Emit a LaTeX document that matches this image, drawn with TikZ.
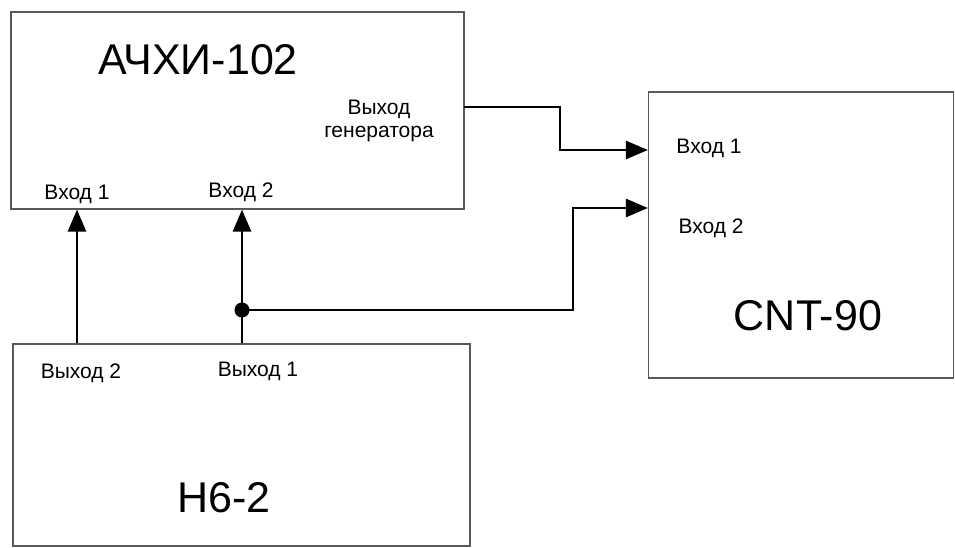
\documentclass[tikz,border=0pt]{standalone}
\usepackage{fontspec}
\setmainfont{Liberation Sans}
\usetikzlibrary{arrows.meta}

\begin{document}
\begin{tikzpicture}[
    x=1pt, y=-1pt,
    box/.style={draw=black!65, line width=1.1pt, inner sep=0pt},
    big/.style={font=\fontsize{43}{48}\selectfont, anchor=base},
    port/.style={font=\fontsize{21}{24}\selectfont, anchor=base},
    arrow/.style={-{Triangle[length=22pt,width=18pt]}, line width=2.6pt},
    dot/.style={circle, fill=black, inner sep=0pt, minimum size=15pt}
]
\useasboundingbox (0,0) rectangle (955,548);

% Devices
\node[box, minimum width=453pt, minimum height=197pt] (achi) at (237.5,110.5) {};
\node[box, minimum width=305pt, minimum height=286pt] (cnt) at (801,235) {};
\node[box, minimum width=457pt, minimum height=202pt] (h6) at (241.5,445) {};

% Device names
\node[big] (achiname) at (198,75) {АЧХИ-102};
\node[big] (cntname) at (808,330) {CNT-90};
\node[big] (h6name) at (224,512) {Н6-2};

% Port labels
\node[port] (genA) at (379,115) {Выход};
\node[port] (genB) at (379,138) {генератора};
\node[port] (in1) at (77,200) {Вход 1};
\node[port] (in2) at (241,197) {Вход 2};
\node[port] (cntin1) at (709,154) {Вход 1};
\node[port] (cntin2) at (711,233) {Вход 2};
\node[port] (out2) at (81,378) {Выход 2};
\node[port] (out1) at (258,376) {Выход 1};

% Route points
\coordinate (genout) at (464,107);
\coordinate (bend1) at (560,150);
\coordinate (split) at (242,310);
\coordinate (bend2) at (573,208);

% Arrows
\draw[arrow] (h6.north -| in1) -- (achi.south -| in1);
\draw[arrow] (h6.north -| split) -- (achi.south -| split);
\draw[arrow] (genout) -| (bend1) -- (bend1 -| cnt.west);
\draw[arrow] (split) -| (bend2) -- (bend2 -| cnt.west);
\node[dot] (junction) at (split) {};
\end{tikzpicture}
\end{document}
